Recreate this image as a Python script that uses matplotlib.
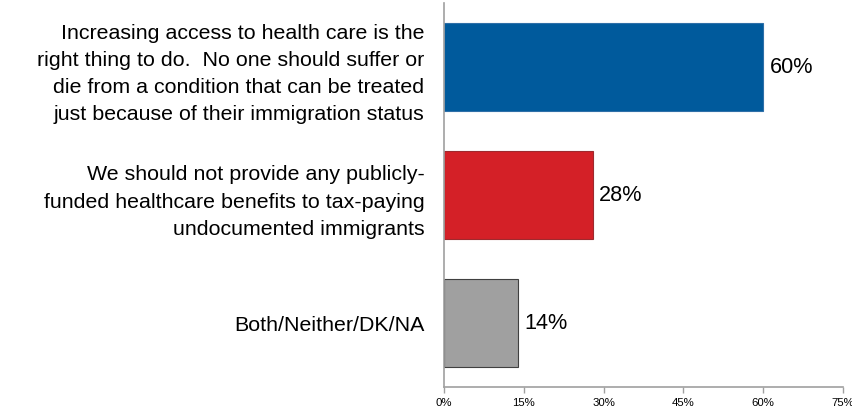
import matplotlib.pyplot as plt
from matplotlib.ticker import FuncFormatter

plt.rcParams['font.family'] = ['Liberation Sans', 'DejaVu Sans']

labels = [
    "Increasing access to health care is the\nright thing to do.  No one should suffer or\ndie from a condition that can be treated\njust because of their immigration status",
    "We should not provide any publicly-\nfunded healthcare benefits to tax-paying\nundocumented immigrants",
    "Both/Neither/DK/NA",
]
values = [60, 28, 14]
colors = ["#005A9C", "#D42027", "#A0A0A0"]
edges = ["#2E6FA8", "#9E2A2E", "#404040"]
xticks = [0, 15, 30, 45, 60, 75]

fig = plt.figure(figsize=(8.53, 4.10), dpi=100)
ax = fig.add_axes([444/853, 1-388/410, 399/853, 384/410])

ypos = list(range(len(values)))
ax.barh(ypos, values, height=0.69, color=colors, edgecolor=edges, linewidth=0.8)

for y, v in zip(ypos, values):
    ax.text(v + 1.2, y, f"{v}%", va="center", ha="left", fontsize=15.6)

ax.set_ylim(len(values) - 0.5, -0.5)
ax.set_xlim(0, 75)
ax.set_yticks(ypos)
ax.set_yticklabels(labels, fontsize=15.4, linespacing=1.55)
ax.tick_params(axis="y", length=0, pad=14)
ax.set_xticks(xticks)
ax.xaxis.set_major_formatter(FuncFormatter(lambda x, p: f"{x:.0f}%"))
ax.tick_params(axis="x", length=4, width=1, color="#A0A0A0", labelsize=8.2, pad=3)

for s in ["top", "right"]:
    ax.spines[s].set_visible(False)
for s in ["left", "bottom"]:
    ax.spines[s].set_color("#A0A0A0")
    ax.spines[s].set_linewidth(1.2)

plt.savefig("out.png", dpi=100)
